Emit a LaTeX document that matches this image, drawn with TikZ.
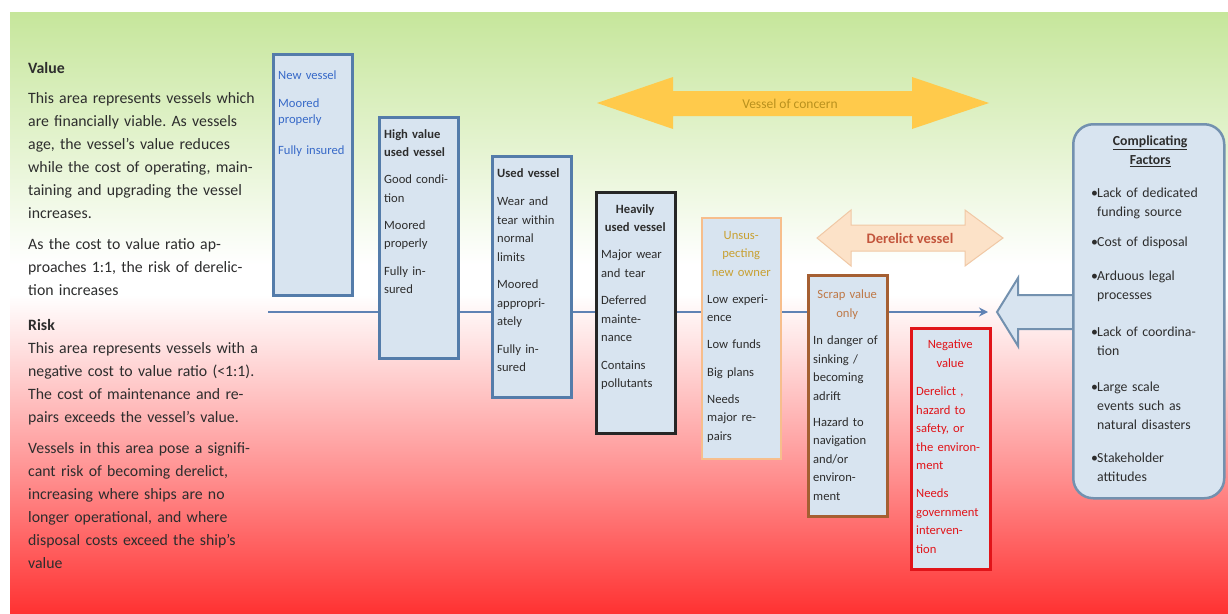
\documentclass[tikz,border=0pt]{standalone}
\usepackage{fontspec}
\setmainfont{Carlito}
\usetikzlibrary{arrows.meta}
\frenchspacing
\definecolor{bggreen}{RGB}{198,230,155}
\definecolor{bgred}{RGB}{255,50,50}
\definecolor{pinkmid}{RGB}{255,140,140}
\definecolor{pinklight}{RGB}{255,224,224}
\definecolor{boxfill}{RGB}{216,228,240}
\definecolor{boxblue}{RGB}{84,124,170}
\definecolor{newblue}{RGB}{55,105,200}
\definecolor{ownerline}{RGB}{247,190,140}
\definecolor{ownertext}{RGB}{200,160,50}
\definecolor{scrapline}{RGB}{165,95,50}
\definecolor{scraptext}{RGB}{190,120,70}
\definecolor{negred}{RGB}{225,20,25}
\definecolor{linecol}{RGB}{95,130,180}
\definecolor{concernfill}{RGB}{255,202,75}
\definecolor{concerntext}{RGB}{185,145,30}
\definecolor{derelictfill}{RGB}{252,226,200}
\definecolor{derelictline}{RGB}{240,200,165}
\definecolor{derelicttext}{RGB}{195,85,60}
\definecolor{factorline}{RGB}{115,145,175}
\definecolor{bodytext}{RGB}{45,45,45}
\pgfdeclareverticalshading{valuerisk}{100bp}{color(0bp)=(bgred); color(25bp)=(bgred);
  color(36bp)=(pinkmid); color(47bp)=(pinklight); color(51.5bp)=(white); color(54bp)=(white);
  color(75bp)=(bggreen); color(100bp)=(bggreen)}

\begin{document}
\begin{tikzpicture}[x=1pt,y=-1pt]
  \tikzset{stage/.style={draw=#1, line width=2.5pt, fill=boxfill, minimum width=79, minimum height=241, anchor=north west, inner sep=0}}
  \tikzset{stagetext/.style={anchor=north west, inner sep=0, text width=68, align=left, text=bodytext, font=\fontsize{12.6}{18.5}\selectfont}}
  \tikzset{sidetext/.style={anchor=north west, inner sep=0, text width=240, align=left, text=bodytext, font=\fontsize{15.8}{23}\selectfont}}

  \useasboundingbox (0,0) rectangle (1228,613);
  \shade[shading=valuerisk] (10,12) rectangle (1228,613);

  \node[sidetext] (valuetxt) at (28,62) {\textbf{Value}\\[7pt]
    This area represents vessels which\\ are financially viable. As vessels\\
    age, the vessel's value reduces\\ while the cost of operating, main-\\
    taining and upgrading the vessel\\ increases.\\[8pt]
    As the cost to value ratio ap-\\proaches 1:1, the risk of derelic-\\tion increases};
  \node[sidetext] (risktxt) at (28,319) {\textbf{Risk}\\
    This area represents vessels with a\\ negative cost to value ratio (<1:1).\\
    The cost of maintenance and re-\\pairs exceeds the vessel's value.\\[8pt]
    Vessels in this area pose a signifi-\\cant risk of becoming derelict,\\
    increasing where ships are no\\ longer operational, and where\\
    disposal costs exceed the ship's\\ value};

  % banners
  \fill[concernfill] (597,103) -- (673,77) -- (673,91) -- (912,91) -- (912,77) -- (989,103)
    -- (912,129) -- (912,116) -- (673,116) -- (673,129) -- cycle;
  \node[text=concerntext, font=\fontsize{13.5}{15}\selectfont] (concern) at (790,104) {Vessel of concern};
  \filldraw[fill=derelictfill, draw=derelictline, line width=1pt] (817,238) -- (851,210) -- (851,225)
    -- (965,225) -- (965,210) -- (1003,238) -- (965,266) -- (965,251) -- (851,251) -- (851,266) -- cycle;
  \node[text=derelicttext, font=\bfseries\fontsize{14.5}{17}\selectfont] (derelict) at (910,238) {Derelict vessel};

  \coordinate (tlstart) at (268,312);
  \coordinate (tlend) at (988,312);
  \draw[linecol, line width=1.8pt, -{Stealth[length=9pt,width=9pt]}] (tlstart) -- (tlend);

  \coordinate (push) at (997,312);
  \filldraw[fill=boxfill, draw=factorline, line width=2pt] (1074,295) -- (1018,295) -- (1018,278)
    -- (push) -- (1018,346) -- (1018,329) -- (1074,329);

  % vessel stages
  \node[stage=boxblue] (newv) at (272,53) {};
  \node[stage=boxblue] (highv) at (378,116) {};
  \node[stage=boxblue] (usedv) at (491,155) {};
  \node[stage=black!85, line width=3.2pt] (heavyv) at (595,191) {};
  \node[stage=ownerline, line width=2pt] (ownerv) at (701,217) {};
  \node[stage=scrapline, line width=3pt] (scrapv) at (807,274) {};
  \node[stage=negred, line width=3pt] (negv) at (910,327) {};

  \node[stagetext, text=newblue, font=\fontsize{12.6}{16}\selectfont] (newvtxt) at ([shift={(6,18)}]newv.north west)
    {New vessel\\[12pt] Moored\\ properly\\[15pt] Fully insured};
  \node[stagetext] (highvtxt) at ([shift={(6,13)}]highv.north west)
    {\textbf{High value}\\ \textbf{used vessel}\\[8.5pt] Good condi-\\tion\\[8.5pt] Moored\\ properly\\[9pt] Fully in-\\sured};
  \node[stagetext] (usedvtxt) at ([shift={(6,13)}]usedv.north west)
    {\textbf{Used vessel}\\[10pt] Wear and\\ tear within\\ normal\\ limits\\[9pt] Moored\\ appropri-\\ately\\[9pt] Fully in-\\sured};
  \node[stagetext] (heavyvtxt) at ([shift={(6,13)}]heavyv.north west)
    {{\centering\bfseries Heavily\\ used vessel\par}\vspace{8.5pt}
     Major wear\\ and tear\\[9pt] Deferred\\ mainte-\\nance\\[9pt] Contains\\ pollutants};
  \node[stagetext] (ownervtxt) at ([shift={(6,14)}]ownerv.north west)
    {{\centering\color{ownertext} Unsus-\\ pecting\\ new owner\par}\vspace{8.5pt}
     Low experi-\\ence\\[8.5pt] Low funds\\[9pt] Big plans\\[8.5pt] Needs\\ major re-\\pairs};
  \node[stagetext] (scrapvtxt) at ([shift={(6,16)}]scrapv.north west)
    {{\centering\color{scraptext} Scrap value\\ only\par}\vspace{9pt}
     In danger of\\ sinking /\\ becoming\\ adrift\\[7.5pt] Hazard to\\ navigation\\ and/or\\ environ-\\ment};
  \node[stagetext, text=negred] (negvtxt) at ([shift={(6,13)}]negv.north west)
    {{\centering Negative\\ value\par}\vspace{10pt}
     Derelict ,\\ hazard to\\ safety, or\\ the environ-\\ment\\[9.5pt] Needs\\ government\\ interven-\\tion};

  % complicating factors
  \node[draw=factorline, line width=2.5pt, fill=boxfill, rounded corners=20pt, minimum width=151,
    minimum height=374, anchor=north west, inner sep=0] (factors) at (1072,123) {};
  \node[anchor=north west, inner sep=0, text width=118, align=left, text=bodytext,
    font=\fontsize{13.8}{19}\selectfont] (factorstxt) at (1091,136)
    {{\centering\bfseries\underline{Complicating}\\ \underline{Factors}\par}\vspace{14pt}
     \makebox[6pt][l]{\textbullet}Lack of dedicated\\ \hspace*{6pt}funding source\\[11pt]
     \makebox[6pt][l]{\textbullet}Cost of disposal\\[15pt]
     \makebox[6pt][l]{\textbullet}Arduous legal\\ \hspace*{6pt}processes\\[18pt]
     \makebox[6pt][l]{\textbullet}Lack of coordina-\\ \hspace*{6pt}tion\\[17pt]
     \makebox[6pt][l]{\textbullet}Large scale\\ \hspace*{6pt}events such as\\ \hspace*{6pt}natural disasters\\[14pt]
     \makebox[6pt][l]{\textbullet}Stakeholder\\ \hspace*{6pt}attitudes};
\end{tikzpicture}
\end{document}
